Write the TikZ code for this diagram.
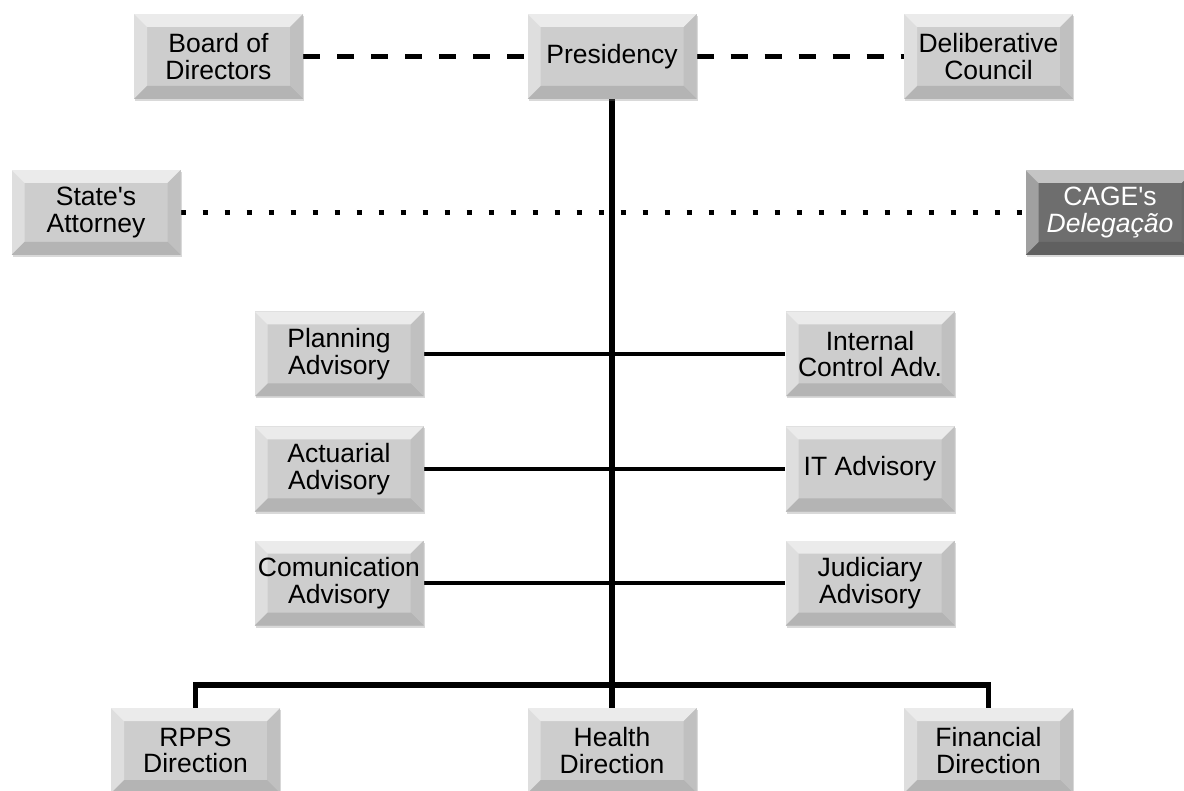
\documentclass[tikz,border=0pt]{standalone}
\usepackage{fontspec}
\setmainfont{Liberation Sans}
\usepackage{tikz}
\usetikzlibrary{shadows,backgrounds}

\definecolor{boxgray}{RGB}{205,205,205}
\definecolor{darkbox}{RGB}{110,110,110}

% bevel faces of a box, drawn inside its path picture
\newcommand{\bevelfaces}{%
  \fill[white,opacity=.6] (path picture bounding box.north west) -- (path picture bounding box.north east)
    -- ([shift={(-13pt,-13pt)}]path picture bounding box.north east) -- ([shift={(13pt,-13pt)}]path picture bounding box.north west) -- cycle;
  \fill[white,opacity=.35] (path picture bounding box.north west) -- (path picture bounding box.south west)
    -- ([shift={(13pt,13pt)}]path picture bounding box.south west) -- ([shift={(13pt,-13pt)}]path picture bounding box.north west) -- cycle;
  \fill[black,opacity=.06] (path picture bounding box.north east) -- (path picture bounding box.south east)
    -- ([shift={(-13pt,13pt)}]path picture bounding box.south east) -- ([shift={(-13pt,-13pt)}]path picture bounding box.north east) -- cycle;
  \fill[black,opacity=.12] (path picture bounding box.south west) -- (path picture bounding box.south east)
    -- ([shift={(-13pt,13pt)}]path picture bounding box.south east) -- ([shift={(13pt,13pt)}]path picture bounding box.south west) -- cycle;
}

\begin{document}
\begin{tikzpicture}
  [x=1pt,y=-1pt,
   unit/.style={rectangle,fill=boxgray,minimum width=169pt,minimum height=85pt,inner sep=0pt,align=center,
     font=\fontsize{26.5}{26.5}\selectfont,path picture={\bevelfaces},
     drop shadow={shadow xshift=1pt,shadow yshift=-2pt,opacity=.3}},
   darkunit/.style={unit,fill=darkbox,text=white},
   dashline/.style={line width=5pt,dash pattern=on 17pt off 17pt},
   dotline/.style={line width=5pt,dash pattern=on 5pt off 17pt},
   trunk/.style={line width=5.5pt},
   branch/.style={line width=4pt}]

  \useasboundingbox (0,0) rectangle (1184,791);

  \node[unit] (board) at (218.5,56.5) {Board of\\Directors};
  \node[unit] (pres) at (612,56.5) {Presidency};
  \node[unit] (delib) at (988.5,56.5) {Deliberative\\Council};

  \node[unit] (attorney) at (96,212.5) {State\textquotesingle s\\Attorney};
  \node[darkunit] (cage) at (1110,212.5) {CAGE\textquotesingle s\\\textit{Delegação}};

  \node[unit] (planning) at (339,354) {Planning\\Advisory};
  \node[unit] (internal) at (870,354) {Internal\\Control Adv.};
  \node[unit] (actuarial) at (339,469) {Actuarial\\Advisory};
  \node[unit] (it) at (870,469) {IT Advisory};
  \node[unit] (comm) at (339,583) {Comunication\\Advisory};
  \node[unit] (judiciary) at (870,583) {Judiciary\\Advisory};

  \node[unit] (rpps) at (195.5,750.5) {RPPS\\Direction};
  \node[unit] (health) at (612,750.5) {Health\\Direction};
  \node[unit] (fin) at (988.5,750.5) {Financial\\Direction};

  \coordinate (bar) at (612,685);

  \begin{scope}[on background layer]
  \draw[dashline] (board) -- (pres);
  \draw[dashline] (pres) -- (delib);
  \draw[dotline] (attorney) -- (cage);

  \draw[branch] (planning) -- (internal);
  \draw[branch] (actuarial) -- (it);
  \draw[branch] (comm) -- (judiciary);

  \draw[trunk] (pres) -- (health);
  \draw[trunk] (rpps) -- (rpps |- bar) -- (fin |- bar) -- (fin);
  \end{scope}

\end{tikzpicture}
\end{document}
